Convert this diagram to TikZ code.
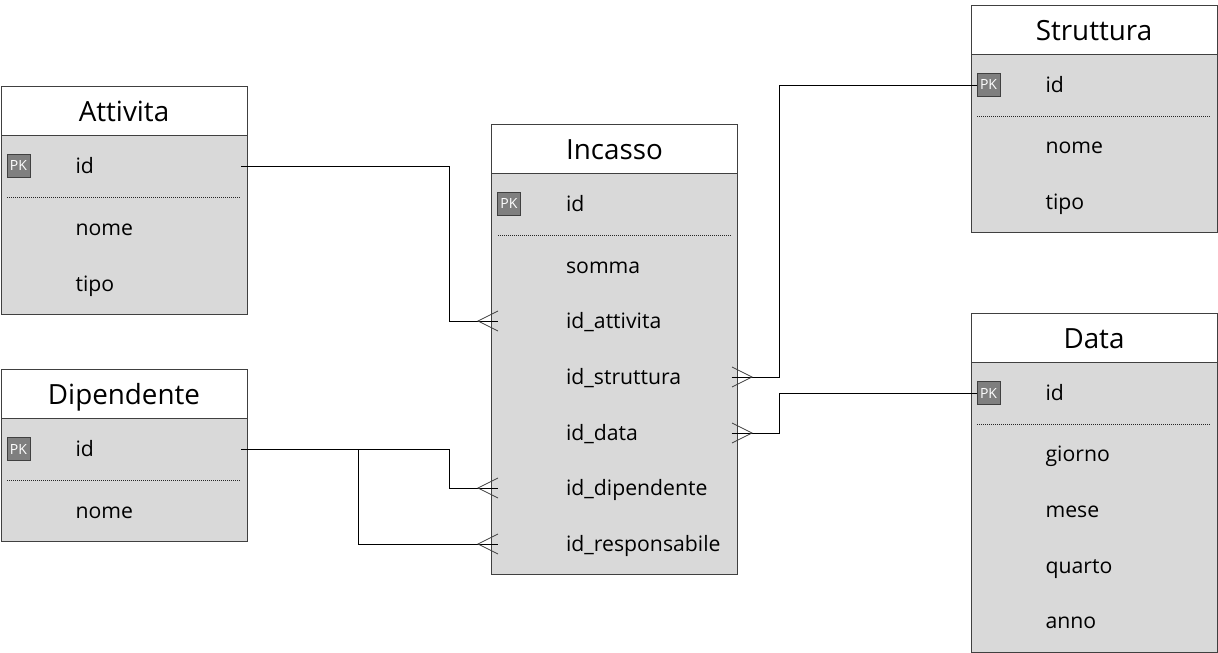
\documentclass[tikz,border=0pt]{standalone}
\usepackage{fontspec}
\setmainfont{Open Sans}
\usetikzlibrary{positioning}
\definecolor{bodygray}{HTML}{D9D9D9}
\definecolor{pkgray}{HTML}{7F7F7F}
\definecolor{linegray}{HTML}{404040}
\tikzset{
	tablehead/.style={draw=linegray,fill=white,line width=0.9pt,outer sep=0pt,inner sep=0pt,minimum width=246pt,minimum height=49pt,text height=24pt,text depth=3pt,font=\fontsize{27.8}{30}\selectfont},
	tablebody/.style={draw=linegray,fill=bodygray,line width=0.9pt,outer sep=0pt,inner sep=0pt,minimum width=246pt},
	rowtext/.style={inner sep=0pt,outer sep=0pt,text width=234pt,align=left,text height=17pt,text depth=3pt,font=\fontsize{21.2}{24}\selectfont,execute at begin node={\hspace*{68.6pt}}},
	pkbox/.style={draw=linegray,fill=pkgray,text=white,line width=1pt,inner sep=0pt,outer sep=0pt,minimum width=23pt,minimum height=23pt,font=\fontsize{14}{15}\selectfont},
	rel/.style={draw=black,line width=0.8pt},
	sepline/.style={black!85,line width=1pt,densely dotted},
	crowleft/.pic={\draw[linegray,line width=0.7pt] (20,-10) -- (0,0) -- (20,10);},
	crowright/.pic={\draw[linegray,line width=0.7pt] (-20,-10) -- (0,0) -- (-20,10);}
}
\begin{document}
\begin{tikzpicture}[x=1pt,y=-1pt]
	\useasboundingbox (0,0) rectangle (1218,653);
	% Tables
	\node[tablehead] (attivita) at (124,110.5) {Attivita};
	\node[tablebody,minimum height=179pt,below=0pt of attivita] (attivitabody) {};
	\node[tablehead] (dipendente) at (124,394) {Dipendente};
	\node[tablebody,minimum height=123pt,below=0pt of dipendente] (dipendentebody) {};
	\node[tablehead] (incasso) at (614.5,148.5) {Incasso};
	\node[tablebody,minimum height=401pt,below=0pt of incasso] (incassobody) {};
	\node[tablehead] (struttura) at (1094,29.5) {Struttura};
	\node[tablebody,minimum height=178pt,below=0pt of struttura] (strutturabody) {};
	\node[tablehead] (data) at (1094,337.5) {Data};
	\node[tablebody,minimum height=290pt,below=0pt of data] (databody) {};
	% Rows
	\foreach \n/\t/\y in {id/id/166,nome/nome/228,tipo/tipo/284}
		\node[rowtext] (attivita-\n) at (124,\y) {\t};
	\foreach \n/\t/\y in {id/id/449,nome/nome/511}
		\node[rowtext] (dipendente-\n) at (124,\y) {\t};
	\foreach \n/\t/\y in {id/id/204,somma/somma/266,attivita/id\_attivita/321,struttura/id\_struttura/377,data/id\_data/433,dipendente/id\_dipendente/488,responsabile/id\_responsabile/544}
		\node[rowtext] (incasso-\n) at (614.5,\y) {\t};
	\foreach \n/\t/\y in {id/id/85,nome/nome/146,tipo/tipo/202}
		\node[rowtext] (struttura-\n) at (1094,\y) {\t};
	\foreach \n/\t/\y in {id/id/393,giorno/giorno/454,mese/mese/510,quarto/quarto/566,anno/anno/621}
		\node[rowtext] (data-\n) at (1094,\y) {\t};
	% Primary keys
	\node[pkbox] (attivita-pk) at (18.5,166) {PK};
	\node[pkbox] (dipendente-pk) at (18.5,449) {PK};
	\node[pkbox] (incasso-pk) at (509,204) {PK};
	\node[pkbox] (struttura-pk) at (988.5,85) {PK};
	\node[pkbox] (data-pk) at (988.5,393) {PK};
	% Separators
	\draw[sepline] (7,197) -- (241,197);
	\draw[sepline] (7,480) -- (241,480);
	\draw[sepline] (498,235) -- (731,235);
	\draw[sepline] (977,116) -- (1211,116);
	\draw[sepline] (977,424) -- (1211,424);
	% Relations
	\draw[rel] (attivita-id.east) -| (449.5,321) -- (incasso-attivita.west);
	\draw[rel] (dipendente-id.east) -| (449.5,488) -- (incasso-dipendente.west);
	\draw[rel] (dipendente-id.east) -| (358,544) -- (incasso-responsabile.west);
	\draw[rel] (incasso-struttura.east) -| (779.5,85) -- (struttura-pk.west);
	\draw[rel] (incasso-data.east) -| (779.5,393) -- (data-pk.west);
	% Crow's feet
	\pic at (478,321) {crowleft};
	\pic at (478,488) {crowleft};
	\pic at (478,544) {crowleft};
	\pic at (752,377) {crowright};
	\pic at (752,433) {crowright};
\end{tikzpicture}
\end{document}
